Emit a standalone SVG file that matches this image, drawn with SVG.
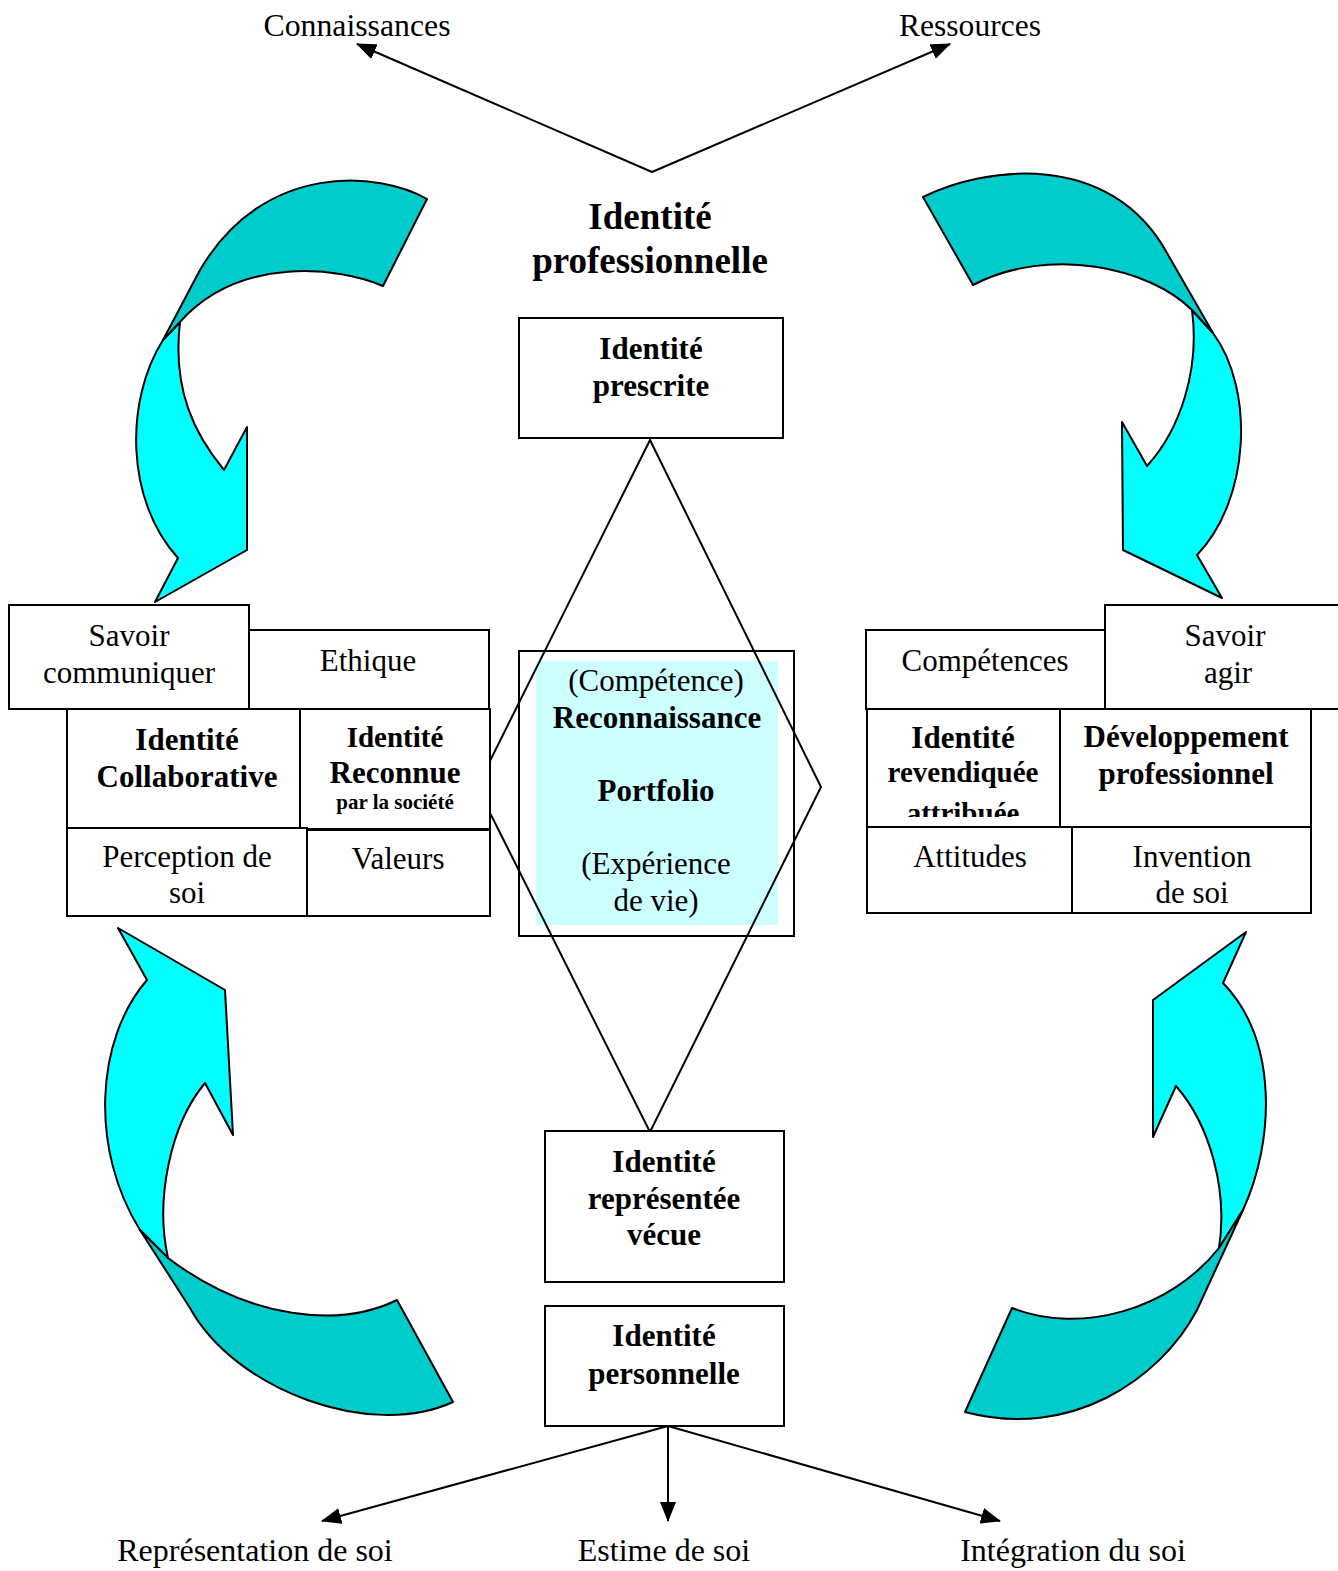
<svg xmlns="http://www.w3.org/2000/svg" width="1338" height="1571" viewBox="0 0 1338 1571">
<style>
.box{fill:#fff;stroke:#000;stroke-width:2}
.t{font-family:"Liberation Serif","Times New Roman",serif;font-size:31px;fill:#000;text-anchor:middle}
.b{font-weight:bold}
.dark{fill:#00cccc;stroke:#000;stroke-width:2;stroke-linejoin:round}
.light{fill:#00ffff;stroke:#000;stroke-width:2;stroke-linejoin:round}
.con{fill:none;stroke:#000;stroke-width:2}
</style>
<defs>
<marker id="ah" markerUnits="userSpaceOnUse" markerWidth="22" markerHeight="16" refX="19" refY="8" orient="auto">
<path d="M0,0 L20,8 L0,16 Z" fill="#000"/>
</marker>
<clipPath id="clipRev"><rect x="867" y="709" width="193" height="108"/></clipPath>
</defs>
<rect width="1338" height="1571" fill="#fff"/>

<!-- curved arrows -->
<g id="arrow-top-left">
<path class="light" d="M163,340 C125,400 125,500 178,558 L155,602 L247,550 L247,427 L224,470 C195,435 172,390 180,322 Z"/>
<path class="dark" d="M427,199 C380,172 265,160 200,270 L163,340 L180,322 C240,255 340,267 383,286 Z"/>
</g>
<g id="arrow-top-right">
<path class="light" d="M1213,333 C1255,390 1250,500 1197,555 L1222,598 L1123,550 L1122,422 L1147,466 C1180,430 1200,370 1192,310 Z"/>
<path class="dark" d="M923,197 C985,166 1110,150 1167,253 L1213,333 L1192,310 C1150,268 1050,245 973,285 Z"/>
</g>
<g id="arrow-bottom-left">
<path class="light" d="M147,980 L118,928 L225,990 L233,1135 L205,1083 C170,1125 155,1200 168,1258 L140,1230 C90,1150 95,1040 147,980 Z"/>
<path class="dark" d="M140,1230 L190,1308 C235,1390 370,1440 453,1402 L397,1300 C340,1328 250,1320 168,1258 Z"/>
</g>
<g id="arrow-bottom-right">
<path class="light" d="M1223,983 L1246,932 L1153,1000 L1153,1137 L1176,1086 C1210,1125 1228,1190 1219,1248 L1243,1210 C1275,1140 1278,1040 1223,983 Z"/>
<path class="dark" d="M1243,1210 L1197,1310 C1160,1380 1070,1440 965,1412 L1012,1308 C1080,1335 1170,1310 1219,1248 Z"/>
</g>

<!-- connectors -->
<g id="connectors">
<line class="con" x1="652" y1="172" x2="357" y2="44" marker-end="url(#ah)"/>
<line class="con" x1="652" y1="172" x2="950" y2="44" marker-end="url(#ah)"/>
<line class="con" x1="668" y1="1426" x2="322" y2="1521" marker-end="url(#ah)"/>
<line class="con" x1="668" y1="1426" x2="668" y2="1521" marker-end="url(#ah)"/>
<line class="con" x1="668" y1="1426" x2="1000" y2="1521" marker-end="url(#ah)"/>
</g>

<!-- top labels -->
<g id="label-connaissances"><text class="t" x="357" y="36" textLength="187" lengthAdjust="spacingAndGlyphs">Connaissances</text></g>
<g id="label-ressources"><text class="t" x="970" y="36" textLength="142" lengthAdjust="spacingAndGlyphs">Ressources</text></g>
<g id="title-identite-professionnelle">
<text class="t b" x="650" y="229" style="font-size:37px">Identité</text>
<text class="t b" x="650" y="273" style="font-size:37px">professionnelle</text>
</g>

<!-- center -->
<g id="node-portfolio">
<rect class="box" x="519" y="651" width="275" height="285"/>
<rect x="536" y="661" width="242" height="264" fill="#ccffff"/>
<text class="t" x="656" y="691">(Compétence)</text>
<text class="t b" x="657" y="728">Reconnaissance</text>
<text class="t b" x="656" y="801">Portfolio</text>
<text class="t" x="656" y="874">(Expérience</text>
<text class="t" x="656" y="911">de vie)</text>
</g>
<g id="diamond">
<polygon points="650,440 821,787 650,1132 477,787" fill="none" stroke="#000" stroke-width="2"/>
</g>
<g id="node-prescrite">
<rect class="box" x="519" y="318" width="264" height="120"/>
<text class="t b" x="651" y="359">Identité</text>
<text class="t b" x="651" y="396">prescrite</text>
</g>
<g id="node-representee">
<rect class="box" x="545" y="1131" width="239" height="151"/>
<text class="t b" x="664" y="1172">Identité</text>
<text class="t b" x="664" y="1209">représentée</text>
<text class="t b" x="664" y="1245">vécue</text>
</g>
<g id="node-personnelle">
<rect class="box" x="545" y="1306" width="239" height="120"/>
<text class="t b" x="664" y="1346">Identité</text>
<text class="t b" x="664" y="1384">personnelle</text>
</g>

<!-- left cluster -->
<g id="node-savoir-communiquer">
<rect class="box" x="9" y="605" width="240" height="104"/>
<text class="t" x="129" y="646">Savoir</text>
<text class="t" x="129" y="683">communiquer</text>
</g>
<g id="node-ethique">
<rect class="box" x="249" y="630" width="240" height="79"/>
<text class="t" x="368" y="671">Ethique</text>
</g>
<g id="node-collaborative">
<rect class="box" x="67" y="709" width="233" height="119"/>
<text class="t b" x="187" y="750">Identité</text>
<text class="t b" x="187" y="787">Collaborative</text>
</g>
<g id="node-reconnue">
<rect class="box" x="300" y="709" width="190" height="120"/>
<text class="t b" x="395" y="747" style="font-size:29px">Identité</text>
<text class="t b" x="395" y="783">Reconnue</text>
<text class="t b" x="395" y="809" style="font-size:21px">par la société</text>
</g>
<g id="node-perception">
<rect class="box" x="67" y="828" width="240" height="88"/>
<text class="t" x="187" y="867">Perception de</text>
<text class="t" x="187" y="903">soi</text>
</g>
<g id="node-valeurs">
<rect class="box" x="307" y="830" width="183" height="86"/>
<text class="t" x="398" y="869">Valeurs</text>
</g>

<!-- right cluster -->
<g id="node-competences">
<rect class="box" x="866" y="630" width="239" height="79"/>
<text class="t" x="985" y="671">Compétences</text>
</g>
<g id="node-savoir-agir">
<rect class="box" x="1105" y="605" width="240" height="104"/>
<text class="t" x="1225" y="646">Savoir</text>
<text class="t" x="1228" y="683">agir</text>
</g>
<g id="node-revendiquee">
<rect class="box" x="867" y="709" width="193" height="118"/>
<text class="t b" x="963" y="748">Identité</text>
<text class="t b" x="963" y="782" style="font-size:29px">revendiquée</text>
<text class="t b" x="963" y="823" style="font-size:29px" clip-path="url(#clipRev)">attribuée</text>
</g>
<g id="node-developpement">
<rect class="box" x="1060" y="709" width="251" height="118"/>
<text class="t b" x="1186" y="747">Développement</text>
<text class="t b" x="1186" y="784">professionnel</text>
</g>
<g id="node-attitudes">
<rect class="box" x="867" y="827" width="205" height="86"/>
<text class="t" x="970" y="867">Attitudes</text>
</g>
<g id="node-invention">
<rect class="box" x="1072" y="827" width="239" height="86"/>
<text class="t" x="1192" y="867">Invention</text>
<text class="t" x="1192" y="903">de soi</text>
</g>

<!-- bottom labels -->
<g id="label-representation"><text class="t" x="255" y="1561" style="font-size:32px">Représentation de soi</text></g>
<g id="label-estime"><text class="t" x="664" y="1561" style="font-size:32px">Estime de soi</text></g>
<g id="label-integration"><text class="t" x="1073" y="1561" style="font-size:32px">Intégration du soi</text></g>
</svg>
